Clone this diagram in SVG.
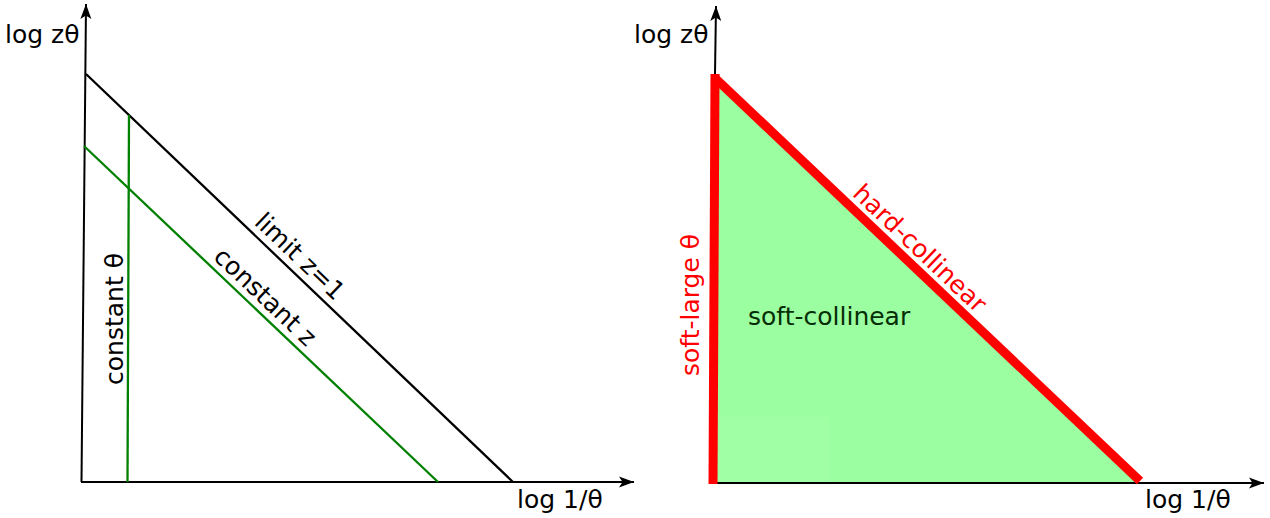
<svg xmlns="http://www.w3.org/2000/svg" width="1270" height="518" viewBox="0 0 1270 518">
<style>
text{font-family:"DejaVu Sans","Liberation Sans",sans-serif;font-size:25px;fill:#000}
.axis{stroke:#000;stroke-width:2;fill:none}
.blk{stroke:#000;stroke-width:2.3;fill:none}
.grn{stroke:#008000;stroke-width:2.3;fill:none}
.red{stroke:#ff0000;stroke-width:9;fill:none}
.redt{fill:#ff0000}
</style>
<defs>
<marker id="arr" markerUnits="userSpaceOnUse" markerWidth="20" markerHeight="14" viewBox="-16 -7 18 14" refX="0" refY="0" orient="auto">
<path d="M0,0 L-15,-5.5 L-11.5,0 L-15,5.5 z" fill="#000"/>
</marker>
</defs>
<g id="left-panel">
<g id="left-axes">
<line class="axis" x1="81.5" y1="482" x2="86" y2="4" marker-end="url(#arr)"/>
<line class="axis" x1="81" y1="482" x2="634" y2="482" marker-end="url(#arr)"/>
<text x="5" y="43">log zθ</text>
<text x="517" y="508">log 1/θ</text>
</g>
<g id="limit-line">
<line class="blk" x1="86" y1="74" x2="513" y2="482"/>
<text transform="translate(294,262.5) rotate(43.7)" text-anchor="middle">limit z=1</text>
</g>
<g id="constant-z">
<line class="grn" x1="84" y1="146" x2="438" y2="482"/>
<text transform="translate(259.4,302.8) rotate(43.5)" text-anchor="middle">constant z</text>
</g>
<g id="constant-theta">
<line class="grn" x1="129" y1="115" x2="127.5" y2="482"/>
<text transform="translate(123,319) rotate(-90)" text-anchor="middle">constant θ</text>
</g>
</g>
<g id="right-panel">
<g id="region">
<polygon points="715,78 713,483 1140,483" fill="#9bfea0"/>
<rect x="718" y="417" width="112" height="65" fill="#a0ffa5"/>
<text x="748" y="325" style="fill:#062e06">soft-collinear</text>
</g>
<g id="right-axes">
<line class="axis" x1="715" y1="74" x2="716" y2="6" marker-end="url(#arr)"/>
<line class="axis" x1="713" y1="483" x2="1264" y2="483" marker-end="url(#arr)"/>
<text x="634" y="43">log zθ</text>
<text x="1145" y="508">log 1/θ</text>
</g>
<g id="boundaries">
<line class="red" x1="715" y1="74" x2="713" y2="484"/>
<line class="red" x1="715" y1="78" x2="1140" y2="481"/>
<text class="redt" transform="translate(914,254.5) rotate(43.5)" text-anchor="middle">hard-collinear</text>
<text class="redt" transform="translate(699,305) rotate(-90)" text-anchor="middle">soft-large θ</text>
</g>
</g>
</svg>
